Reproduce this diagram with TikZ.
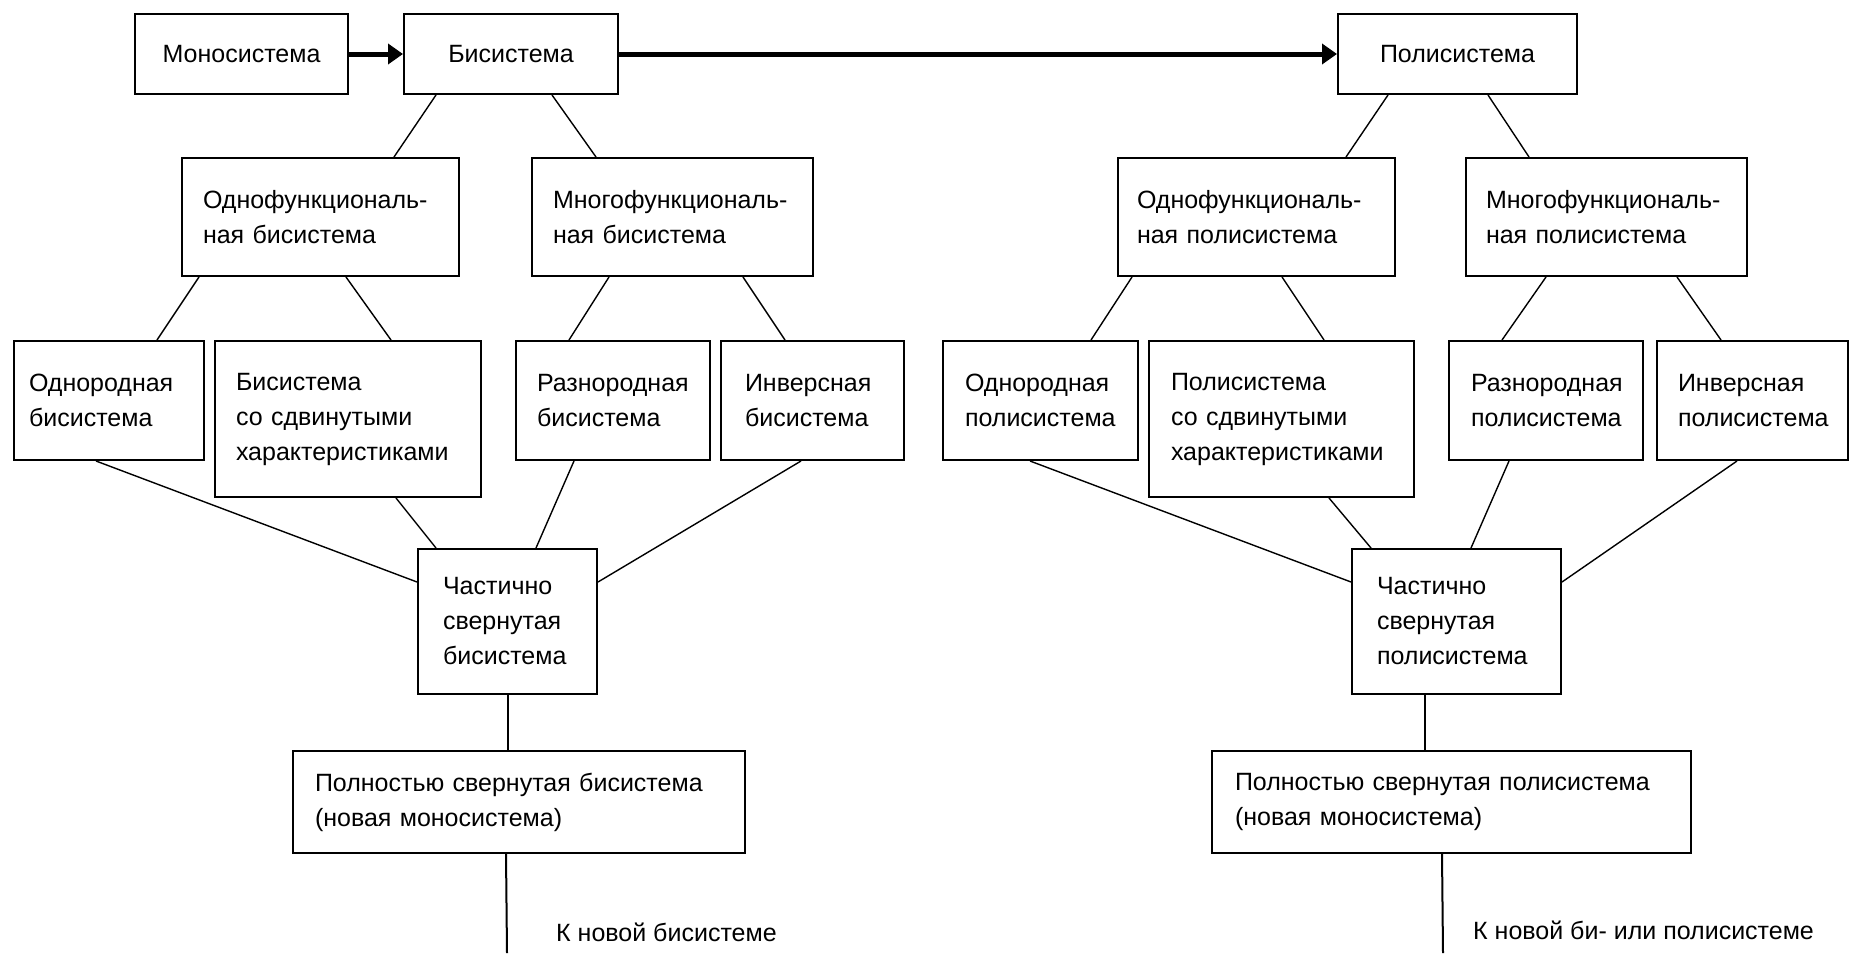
\documentclass[tikz,border=0pt]{standalone}
\usepackage{fontspec}
\setmainfont{Liberation Sans}
\usetikzlibrary{arrows.meta}
\begin{document}
\begin{tikzpicture}[x=1pt,y=-1pt,
  txt/.style={font=\fontsize{25}{35}\selectfont},
  box/.style={txt, draw, line width=2pt, rectangle, inner xsep=21pt, inner ysep=0pt, align=left},
  cbox/.style={box, align=center},
  conn/.style={line width=1.4pt},
  vconn/.style={line width=2pt},
  flow/.style={line width=5pt, -{Triangle[length=15pt,width=20pt]}}]
\useasboundingbox (0,0) rectangle (1852,953);

% top row
\node[cbox, minimum width=213pt, minimum height=80pt, text width=171pt] (mono) at (241.5,54) {Моносистема};
\node[cbox, minimum width=214pt, minimum height=80pt, text width=172pt] (bi) at (511,54) {Бисистема};
\node[cbox, minimum width=239pt, minimum height=80pt, text width=197pt] (poli) at (1457.5,54) {Полисистема};

% second row
\node[box, minimum width=277pt, minimum height=118pt, text width=235pt] (ofb) at (320.5,217) {Однофункциональ-\\ная бисистема};
\node[box, minimum width=281pt, minimum height=118pt, text width=239pt] (mfb) at (672.5,217) {Многофункциональ-\\ная бисистема};
\node[box, minimum width=277pt, minimum height=118pt, inner xsep=19pt, text width=239pt] (ofp) at (1256.5,217) {Однофункциональ-\\ная полисистема};
\node[box, minimum width=281pt, minimum height=118pt, text width=241pt, inner xsep=20pt] (mfp) at (1606.5,217) {Многофункциональ-\\ная полисистема};

% third row
\node[box, minimum width=190pt, minimum height=119pt, inner xsep=15pt, text width=160pt] (onb) at (109,400.5) {Однородная\\бисистема};
\node[box, minimum width=266pt, minimum height=156pt, text width=224pt] (sdb) at (348,419) {Бисистема\\со сдвинутыми\\характеристиками};
\node[box, minimum width=194pt, minimum height=119pt, text width=152pt] (rnb) at (613,400.5) {Разнородная\\бисистема};
\node[box, minimum width=183pt, minimum height=119pt, inner xsep=24pt, text width=135pt] (inb) at (812.5,400.5) {Инверсная\\бисистема};
\node[box, minimum width=195pt, minimum height=119pt, inner xsep=22pt, text width=151pt] (onp) at (1040.5,400.5) {Однородная\\полисистема};
\node[box, minimum width=265pt, minimum height=156pt, inner xsep=22pt, text width=221pt] (sdp) at (1281.5,419) {Полисистема\\со сдвинутыми\\характеристиками};
\node[box, minimum width=194pt, minimum height=119pt, inner xsep=22pt, text width=150pt] (rnp) at (1546,400.5) {Разнородная\\полисистема};
\node[box, minimum width=191pt, minimum height=119pt, text width=149pt] (inp) at (1752.5,400.5) {Инверсная\\полисистема};

% partially folded
\node[box, minimum width=179pt, minimum height=145pt, inner xsep=25pt, text width=129pt] (chb) at (507.5,621.5) {Частично\\свернутая\\бисистема};
\node[box, minimum width=209pt, minimum height=145pt, inner xsep=25pt, text width=159pt] (chp) at (1456.5,621.5) {Частично\\свернутая\\полисистема};

% fully folded
\node[box, minimum width=452pt, minimum height=102pt, inner xsep=22pt, text width=408pt] (plb) at (519,802) {Полностью свернутая бисистема\\(новая моносистема)};
\node[box, minimum width=479pt, minimum height=102pt, inner xsep=23pt, text width=433pt] (plp) at (1451.5,802) {Полностью свернутая полисистема\\(новая моносистема)};

% bottom labels
\node[txt, anchor=west, inner sep=0pt] (kb) at (556,932) {К новой бисистеме};
\node[txt, anchor=west, inner sep=0pt] (kp) at (1473,930) {К новой би- или полисистеме};
\coordinate (endb) at (507,953);
\coordinate (endp) at (1443,953);

% main arrows
\draw[flow] (mono) -- (bi);
\draw[flow] (bi) -- (poli);

% bi tree
\draw[conn] ([xshift=33pt]bi.south west) -- ([xshift=213pt]ofb.north west);
\draw[conn] ([xshift=149pt]bi.south west) -- ([xshift=65pt]mfb.north west);
\draw[conn] ([xshift=18pt]ofb.south west) -- ([xshift=144pt]onb.north west);
\draw[conn] ([xshift=165pt]ofb.south west) -- ([xshift=177pt]sdb.north west);
\draw[conn] ([xshift=78pt]mfb.south west) -- ([xshift=54pt]rnb.north west);
\draw[conn] ([xshift=212pt]mfb.south west) -- ([xshift=65pt]inb.north west);
\draw[conn] ([xshift=83pt]onb.south west) -- ([yshift=-34pt]chb.north west);
\draw[conn] ([xshift=182pt]sdb.south west) -- ([xshift=19pt]chb.north west);
\draw[conn] ([xshift=59pt]rnb.south west) -- ([xshift=119pt]chb.north west);
\draw[conn] ([xshift=81pt]inb.south west) -- ([yshift=-34pt]chb.north east);
\draw[vconn] (chb.south) -- (chb.south |- plb.north);
\draw[vconn] ([xshift=214pt]plb.south west) -- (endb);

% poli tree
\draw[conn] ([xshift=51pt]poli.south west) -- ([xshift=229pt]ofp.north west);
\draw[conn] ([xshift=151pt]poli.south west) -- ([xshift=64pt]mfp.north west);
\draw[conn] ([xshift=15pt]ofp.south west) -- ([xshift=149pt]onp.north west);
\draw[conn] ([xshift=165pt]ofp.south west) -- ([xshift=176pt]sdp.north west);
\draw[conn] ([xshift=81pt]mfp.south west) -- ([xshift=54pt]rnp.north west);
\draw[conn] ([xshift=212pt]mfp.south west) -- ([xshift=65pt]inp.north west);
\draw[conn] ([xshift=88pt]onp.south west) -- ([yshift=-34pt]chp.north west);
\draw[conn] ([xshift=181pt]sdp.south west) -- ([xshift=20pt]chp.north west);
\draw[conn] ([xshift=61pt]rnp.south west) -- ([xshift=120pt]chp.north west);
\draw[conn] ([xshift=81pt]inp.south west) -- ([yshift=-34pt]chp.north east);
\draw[vconn] ([xshift=74pt]chp.south west) -- ([xshift=74pt]chp.south west |- plp.north);
\draw[vconn] ([xshift=231pt]plp.south west) -- (endp);
\end{tikzpicture}
\end{document}
